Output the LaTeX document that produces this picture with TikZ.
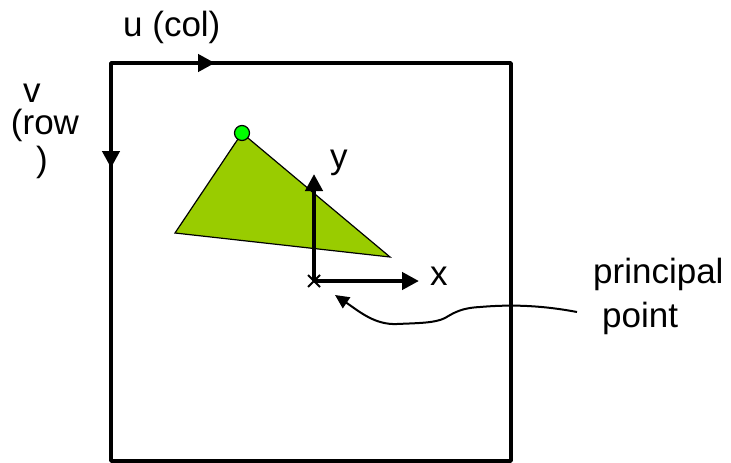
\documentclass[tikz,border=0pt]{standalone}
\usepackage{fontspec}
\setmainfont{Liberation Sans}
\usetikzlibrary{arrows.meta}
\definecolor{trigreen}{HTML}{99CC00}
\definecolor{dotgreen}{HTML}{00FF00}
\tikzset{
  lbl/.style={inner sep=0pt, font=\fontsize{35}{42}\selectfont},
  axisarrow/.style={line width=4.5pt, -{Triangle[length=17pt,width=17pt]}},
  framebox/.style={line width=3.5pt, line join=round},
  pointer/.style={line width=2pt, -{Triangle[length=14pt,width=13pt]}},
  markline/.style={line width=2pt}
}
\begin{document}
\begin{tikzpicture}[x=1pt,y=-1pt]
\useasboundingbox (0,0) rectangle (731,463);
% frame
\coordinate (tl) at (111,63);
\coordinate (br) at (511,461);
\draw[framebox] (tl) rectangle (br);
% u and v arrows
\coordinate (utip) at (215,63);
\coordinate (vtip) at (111,168);
\draw[axisarrow] (tl) -- (utip);
\draw[axisarrow] (tl) -- (vtip);
% triangle
\coordinate (ta) at (242,133);
\coordinate (tb) at (175,233);
\coordinate (tc) at (390,257);
\filldraw[fill=trigreen, draw=black, line width=1.2pt] (ta) -- (tb) -- (tc) -- cycle;
\node[circle, draw=black, fill=dotgreen, line width=1.2pt, minimum size=15pt, inner sep=0pt] (dot) at (ta) {};
% principal point axes
\coordinate (o) at (314,281);
\coordinate (ytip) at (314,174);
\coordinate (xtip) at (419,281);
\draw[axisarrow] (o) -- (ytip);
\draw[axisarrow] (o) -- (xtip);
\draw[markline] (308,275) -- (320,287);
\draw[markline] (308,287) -- (320,275);
% labels
\node[lbl, anchor=base west] (ulbl) at (123,36) {u (col)};
\node[lbl, anchor=base] (vlbl) at (32,102) {v};
\node[lbl, anchor=base] (rowlbl) at (45,134) {(row};
\node[lbl, anchor=base] (parlbl) at (42,171) {)};
\node[lbl, anchor=base west] (ylbl) at (330,168) {y};
\node[lbl, anchor=base west] (xlbl) at (430,285) {x};
\node[lbl, anchor=base west] (pplbl) at (593,283) {principal};
\node[lbl, anchor=base west] (ptlbl) at (602,327) {point};
% pointer curve
\coordinate (cstart) at (577,312);
\coordinate (ctip) at (335,295);
\draw[pointer] (cstart) .. controls (545,306) and (515,304) .. (480,307)
  .. controls (462,308) and (455,312) .. (445,318)
  .. controls (435,323) and (420,323) .. (397,324)
  .. controls (375,325) and (360,312) .. (ctip);
\end{tikzpicture}
\end{document}
